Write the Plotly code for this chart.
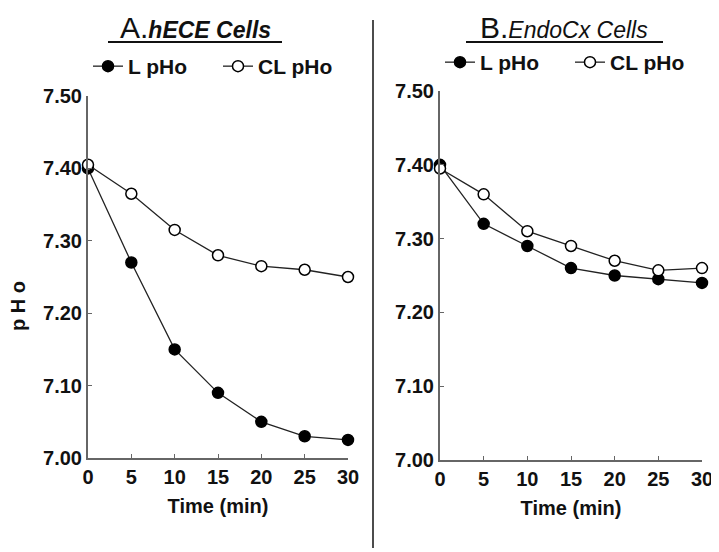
import plotly.graph_objects as go

time = [0, 5, 10, 15, 20, 25, 30]
a_l = [7.40, 7.27, 7.15, 7.09, 7.05, 7.03, 7.025]
a_cl = [7.405, 7.365, 7.315, 7.28, 7.265, 7.26, 7.25]
b_l = [7.40, 7.32, 7.29, 7.26, 7.25, 7.245, 7.24]
b_cl = [7.395, 7.36, 7.31, 7.29, 7.27, 7.257, 7.26]
yticks = [7.00, 7.10, 7.20, 7.30, 7.40, 7.50]
xticks = [0, 5, 10, 15, 20, 25, 30]

W, H = 719, 552
OFF = 8  # page body margin
def px(x): return (x - OFF) / W
def py(y): return 1 - (y - OFF) / H

FONT = "Liberation Sans, Arial, sans-serif"
fig = go.Figure()

def add(x, y, filled, xa, ya, name, legend):
    fig.add_trace(go.Scatter(
        x=x, y=y, xaxis=xa, yaxis=ya, mode="lines+markers", name=name,
        legend=legend, cliponaxis=False,
        line=dict(color="#222222", width=1.3),
        marker=dict(size=11, color="black" if filled else "white",
                    line=dict(color="black", width=1.5)),
    ))

add(time, a_l, True, "x", "y", "<b>L pHo</b>", "legend")
add(time, a_cl, False, "x", "y", "<b>CL pHo</b>", "legend")
add(time, b_l, True, "x2", "y2", "<b>L pHo</b>", "legend2")
add(time, b_cl, False, "x2", "y2", "<b>CL pHo</b>", "legend2")

tf = dict(family=FONT, size=20, color="#111111")
lf = dict(family=FONT, size=21, color="#111111")
axcommon = dict(showgrid=False, zeroline=False, showline=True, linecolor="#666666",
                linewidth=2, ticks="inside", ticklen=4, tickcolor="#666666",
                tickfont=tf, automargin=False)
xcommon = dict(axcommon, range=[0, 30], tickvals=xticks,
               ticktext=["<b>%d</b>" % t for t in xticks])
ycommon = dict(axcommon, range=[7.0, 7.5], tickvals=yticks,
               ticktext=["<b>%.2f</b>" % t for t in yticks])
xtitle = dict(text="<b>Time (min)</b>", font=tf, standoff=12)

fig.update_layout(
    width=W, height=H, margin=dict(l=0, r=0, t=0, b=0, autoexpand=False),
    paper_bgcolor="white", plot_bgcolor="white",
    xaxis=dict(xcommon, domain=[px(88), px(348)], anchor="y", title=xtitle),
    yaxis=dict(ycommon, domain=[py(458), py(96)], anchor="x"),
    xaxis2=dict(xcommon, domain=[px(440), px(702)], anchor="y2", title=xtitle),
    yaxis2=dict(ycommon, domain=[py(460), py(91)], anchor="x2"),
    legend=dict(orientation="h", x=px(88), y=py(46), xanchor="left", yanchor="top",
                font=lf, bgcolor="rgba(0,0,0,0)", itemwidth=30, entrywidth=85,
                traceorder="normal"),
    legend2=dict(orientation="h", x=px(440), y=py(42), xanchor="left", yanchor="top",
                 font=lf, bgcolor="rgba(0,0,0,0)", itemwidth=30, entrywidth=85,
                 traceorder="normal"),
    showlegend=True,
)

# Panel titles
fig.add_annotation(x=px(195), y=py(46), xref="paper", yref="paper",
                   xanchor="center", yanchor="bottom", showarrow=False,
                   text="A.<span style='font-size:23px'><b><i>hECE Cells</i></b></span>",
                   font=dict(family=FONT, size=30, color="#111"))
fig.add_annotation(x=px(564), y=py(46), xref="paper", yref="paper",
                   xanchor="center", yanchor="bottom", showarrow=False,
                   text="B.<span style='font-size:23px'><i>EndoCx Cells</i></span>",
                   font=dict(family=FONT, size=30, color="#111"))
fig.add_shape(type="line", xref="paper", yref="paper", x0=px(108), x1=px(282),
              y0=py(42), y1=py(42), line=dict(color="#111", width=2))
fig.add_shape(type="line", xref="paper", yref="paper", x0=px(466), x1=px(663),
              y0=py(42), y1=py(42), line=dict(color="#111", width=2))

# Y axis title
fig.add_annotation(x=px(18), y=py(306), xref="paper", yref="paper", showarrow=False,
                   xanchor="center", yanchor="middle",
                   text="<b>p H o</b>", textangle=-90,
                   font=dict(family=FONT, size=20, color="#111"))

# Divider
fig.add_shape(type="line", xref="paper", yref="paper", x0=px(373), x1=px(373),
              y0=py(20), y1=py(548), line=dict(color="#111", width=1.5))

fig.write_html("out.html")
